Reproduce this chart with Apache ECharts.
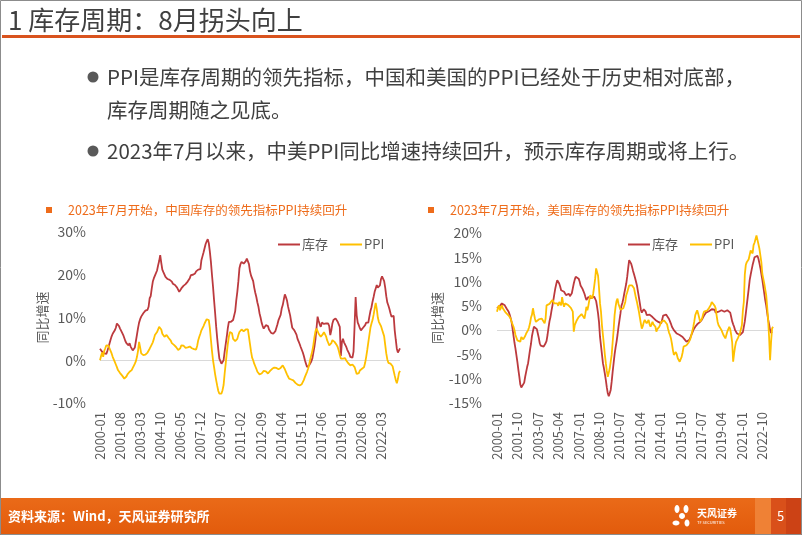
<!DOCTYPE html>
<html><head><meta charset="utf-8">
<script src="https://cdn.jsdelivr.net/npm/echarts/dist/echarts.min.js"></script>
<style>html,body{margin:0;padding:0;background:#fff}#c{width:802px;height:535px}</style>
</head><body><div id="c"></div>
<script>
// ---------- data (monthly, from 2000-01) ----------
const cnInventory = [
2.7,2.3,2.0,1.8,1.6,1.5,1.5,2.2,3.0,3.9,4.8,5.6,
6.2,6.0,7.0,7.6,8.6,8.2,8.0,7.4,7.0,6.4,5.9,5.2,
4.5,4.0,3.8,3.5,4.0,3.2,2.8,2.3,2.2,3.0,4.5,6.0,
7.5,8.8,9.6,10.2,10.6,11.0,11.3,11.6,11.7,11.8,12.5,14.5,
15.0,16.8,18.4,19.2,19.8,20.0,21.0,22.2,23.2,24.6,22.8,21.2,
20.6,20.2,19.5,19.2,19.0,18.9,18.8,18.5,18.4,17.9,17.7,17.6,
17.4,17.0,17.2,16.0,15.6,16.8,17.0,17.4,17.6,17.8,18.2,18.4,
18.8,19.2,19.9,19.8,20.0,20.4,20.3,20.8,21.0,21.2,21.5,21.3,
23.4,24.3,25.2,26.2,27.2,27.8,28.3,27.4,25.4,23.0,20.0,17.2,
14.0,11.0,7.8,5.0,2.5,0.4,0.0,-0.8,-0.5,0.0,2.0,3.8,
5.5,7.5,9.0,9.2,9.0,9.4,9.4,9.8,11.5,14.0,16.0,18.5,
21.5,22.5,23.0,22.8,22.6,23.0,23.2,23.8,24.0,22.5,20.8,19.8,
19.5,18.5,17.0,15.8,14.8,13.5,12.5,11.0,10.0,8.8,8.0,7.4,
7.4,8.2,8.6,8.0,7.2,7.0,6.4,6.0,6.2,6.6,6.8,7.0,
8.4,9.4,9.8,10.6,12.1,12.9,14.2,15.4,14.8,14.0,12.6,11.5,
10.5,9.0,7.6,7.2,7.0,6.8,6.0,5.0,4.4,3.8,3.1,2.7,
1.8,1.0,0.0,-0.8,-1.6,-1.6,-1.2,-0.8,-0.3,0.4,1.8,3.2,
5.0,7.6,10.2,9.2,8.4,7.8,8.8,8.4,8.5,8.8,8.6,8.4,
8.6,8.0,5.9,7.0,8.6,9.4,9.6,9.8,9.4,9.0,8.4,7.8,
1.0,4.2,5.0,4.2,3.9,3.2,2.5,2.2,1.5,0.8,0.4,0.6,
2.0,8.0,14.8,10.5,8.8,8.2,7.5,7.0,7.2,7.6,7.8,8.2,
8.8,8.6,8.8,10.2,11.5,12.4,13.7,14.8,16.0,16.8,17.6,17.0,
16.6,17.5,19.0,19.6,19.9,18.5,17.0,15.0,13.5,12.8,12.0,11.0,
10.2,10.0,10.4,7.0,4.8,2.7,1.8,1.6,2.8
];
const cnPPI = [
0.0,1.0,1.8,0.8,2.2,2.8,3.5,3.6,3.4,2.8,2.2,1.6,
0.8,0.2,-0.4,-1.0,-1.6,-2.3,-2.6,-3.0,-3.4,-3.6,-4.0,-4.3,
-4.3,-3.8,-3.3,-3.0,-2.7,-2.5,-2.3,-1.8,-1.3,-0.8,-0.2,0.8,
2.2,4.3,3.0,1.6,1.3,1.2,1.2,1.3,1.2,1.8,2.2,2.7,
3.2,3.5,4.2,5.0,5.9,6.3,6.6,7.0,7.8,8.2,7.2,6.2,
5.8,5.5,5.6,5.9,5.5,5.2,5.1,4.6,4.0,3.9,3.6,3.5,
3.1,2.7,2.4,2.0,2.8,3.5,3.3,3.4,3.1,2.9,2.7,3.0,
3.2,3.2,3.0,2.8,2.7,2.6,2.6,2.5,3.4,4.7,5.5,6.2,
7.0,7.4,8.0,8.6,9.0,9.6,10.0,9.4,7.5,4.8,2.2,0.0,
-1.6,-3.3,-4.7,-6.0,-7.2,-7.8,-8.2,-7.8,-7.0,-5.8,-3.1,-0.8,
1.6,3.8,5.5,6.6,7.0,6.3,5.0,4.7,4.5,4.3,5.0,5.9,
6.6,7.0,7.2,7.4,6.8,7.0,7.2,7.0,7.2,5.5,3.8,2.0,
0.6,0.0,-0.8,-1.4,-2.0,-2.7,-3.0,-3.3,-3.5,-3.1,-2.7,-2.5,
-2.3,-2.6,-2.9,-3.1,-2.8,-2.5,-2.2,-2.0,-1.8,-1.7,-1.6,-1.8,
-2.0,-2.1,-2.3,-1.8,-1.4,-1.2,-1.5,-2.1,-2.7,-3.3,-3.8,-4.3,
-4.4,-4.5,-4.6,-4.7,-5.0,-5.3,-5.5,-5.7,-5.9,-5.9,-5.9,-5.6,
-5.2,-4.6,-3.9,-3.3,-2.7,-2.0,-1.0,0.2,1.2,2.2,3.6,5.4,
6.8,7.4,7.0,6.2,5.8,5.5,5.6,6.1,6.6,6.4,5.6,4.7,
4.1,3.5,3.4,4.0,4.7,4.6,4.3,4.0,3.6,3.1,2.3,1.3,
0.4,0.0,0.4,0.8,0.5,0.0,-0.4,-0.7,-1.0,-1.2,-1.4,-1.0,
-1.2,-1.6,-2.4,-3.2,-3.6,-3.0,-2.4,-2.1,-2.0,-1.8,-1.6,-0.6,
0.8,2.4,4.2,5.9,7.6,8.6,9.4,10.6,12.1,13.4,12.0,10.0,
9.0,8.6,8.0,7.2,6.4,5.6,3.6,1.6,0.2,-0.6,-1.0,-0.8,
-0.8,-1.4,-2.5,-3.6,-4.6,-5.4,-4.4,-3.0,-2.5
];
const usInventory = [
4.5,4.2,4.6,5.0,5.3,5.5,5.4,5.3,5.1,4.8,4.4,4.1,
3.8,3.2,2.5,1.7,0.3,-1.2,-2.6,-3.8,-5.2,-6.6,-8.2,-9.6,
-11.2,-11.8,-12.0,-11.5,-10.8,-9.6,-8.6,-7.6,-6.8,-5.4,-4.0,-2.8,
-1.2,-0.2,0.7,1.0,0.8,0.2,-0.7,-1.6,-2.7,-3.2,-3.6,-3.5,
-3.4,-3.1,-2.7,-2.2,-1.0,0.5,1.8,2.7,3.9,5.0,6.2,7.4,8.6,
9.5,10.3,10.0,9.6,9.0,8.2,8.0,7.9,7.9,7.5,7.2,7.3,
7.4,7.5,7.0,6.8,7.6,8.6,9.6,10.4,11.0,11.3,11.0,10.6,
10.0,9.2,8.9,8.5,8.2,7.5,6.8,6.2,6.4,6.8,6.7,6.5,
6.6,6.7,6.8,6.9,6.8,6.0,4.8,3.4,1.6,-1.4,-3.2,-5.0,
-6.8,-7.8,-9.0,-10.3,-11.8,-13.0,-13.6,-13.0,-12.3,-10.6,-8.6,-6.8,
-5.0,-3.6,-2.4,-1.0,0.6,2.0,3.4,5.0,5.6,6.5,7.6,8.6,
9.6,11.0,12.8,14.4,14.2,13.7,13.0,12.2,11.5,10.8,10.0,9.2,
8.0,6.8,5.5,4.2,3.6,4.0,4.3,4.5,3.8,3.1,3.3,3.4,3.2,
3.0,2.8,2.7,2.5,2.3,2.1,2.0,1.9,1.7,1.6,1.4,1.4,
2.2,3.0,3.4,3.3,3.2,3.1,2.9,2.3,1.8,1.3,0.7,0.4,
0.0,0.2,-0.3,-0.7,-0.5,-0.8,-1.0,-1.0,-1.2,-1.4,-1.7,-1.9,
-2.1,-2.4,-2.2,-2.0,-2.0,-1.6,-1.0,-0.5,0.0,0.4,0.7,1.0,
1.2,1.4,1.5,1.7,2.0,2.2,2.6,3.0,3.4,3.6,3.7,3.8,
3.9,4.0,4.1,4.3,4.4,4.5,4.2,3.6,3.4,3.6,3.8,3.9,
4.0,4.1,4.0,3.9,3.8,3.9,4.0,4.1,4.3,4.5,3.6,2.7,
1.8,1.2,0.7,0.0,-0.3,-0.7,-0.8,-1.0,-1.0,-1.0,-0.8,-0.4,0.0,
1.8,3.4,5.1,6.8,8.5,10.3,11.4,12.4,13.4,14.2,15.0,15.2,
15.4,15.3,14.7,13.8,12.8,11.6,10.4,9.0,7.6,6.2,5.1,3.6,
2.2,1.2,0.0,-0.6,-0.3
];
const usPPI = [
3.8,4.6,5.1,4.1,4.6,5.1,4.5,4.1,4.3,3.6,3.4,3.2,
3.0,2.6,2.4,1.7,1.4,0.7,0.0,-1.0,-1.4,-2.1,-2.2,-2.1,
-2.4,-1.4,-1.7,-1.9,-1.7,-1.2,-0.7,-0.5,0.0,0.6,1.4,2.6,
3.2,4.5,3.4,2.4,1.7,2.0,2.1,2.2,1.8,2.1,2.4,2.7,
2.6,1.4,2.4,5.1,4.8,5.3,5.4,5.5,5.8,6.2,5.9,5.5,5.6,
5.8,5.5,5.0,5.8,5.4,5.1,6.8,5.6,4.8,5.5,5.9,5.4,
5.2,5.0,5.1,4.6,4.2,3.8,-0.3,1.0,1.4,2.0,2.4,2.7,
3.0,3.1,3.3,3.4,3.0,2.4,3.5,4.8,4.1,5.0,6.2,7.2,
6.8,6.5,7.5,9.0,10.6,12.7,12.4,11.2,8.6,5.5,3.8,1.0,
-1.0,-3.0,-5.1,-6.8,-8.4,-9.6,-8.8,-7.9,-6.5,-5.1,-2.5,0.0,
3.1,4.8,6.0,6.5,5.4,4.8,4.2,3.8,4.2,4.5,4.6,5.8,
7.2,7.8,8.5,9.2,9.4,9.6,9.2,8.8,8.6,7.6,6.6,5.8,
4.8,3.8,2.6,1.4,0.3,0.8,1.6,2.1,1.8,1.4,1.6,2.1,1.2,
0.7,1.2,1.7,1.2,0.9,0.7,-0.3,0.2,0.5,0.7,1.2,1.7,
1.8,2.1,2.0,1.8,1.7,1.2,0.3,-0.5,-1.0,-1.7,-2.8,-4.1,
-5.1,-4.7,-4.5,-5.0,-5.8,-6.0,-6.5,-6.0,-5.5,-4.6,-3.4,-3.2,
-3.3,-3.1,-2.8,-2.6,-2.4,-1.8,-1.0,-0.2,0.7,1.8,3.1,3.6,
4.1,3.4,2.6,1.7,2.0,2.4,3.2,3.8,4.1,4.1,4.0,4.1,
4.5,4.8,5.2,5.8,5.6,5.5,5.0,4.5,3.0,1.7,1.0,1.4,
0.6,0.0,-0.5,-1.0,-1.3,-1.7,-1.0,-0.3,0.0,0.7,0.2,-1.0,
-2.5,-6.5,-4.8,-3.4,-2.4,-2.0,-1.6,-1.2,-0.6,-0.2,1.0,4.0,5.8,
11.5,13.4,14.0,14.4,14.6,14.7,16.4,16.0,15.8,17.5,18.0,18.2,
19.5,19.7,19.9,16.8,15.4,14.0,11.6,10.6,9.6,8.4,7.2,4.8,
2.0,-1.5,-6.2,-2.5,0.3,0.7
];
const seriesNames = ['库存', 'PPI'];
const cnYTicks = { min: -10, max: 30, step: 10 };
const usYTicks = { min: -15, max: 20, step: 5 };
const cnTitle = '2023年7月开始，中国库存的领先指标PPI持续回升';
const usTitle = '2023年7月开始，美国库存的领先指标PPI持续回升';

function makeMonths(n) {
  const a = [];
  for (let i = 0; i < n; i++) {
    const y = 2000 + Math.floor(i / 12), m = i % 12 + 1;
    a.push(y + '-' + (m < 10 ? '0' : '') + m);
  }
  return a;
}
const months = makeMonths(285);

// ---------- styles ----------
const FONT = '"Noto Sans CJK SC","Noto Sans",sans-serif';
const RED = '#BC3A3E', GOLD = '#FFC000', GRAY = '#595959', ORANGE = '#EE6C1B';

function zeroOnly(tk) {
  const cols = [];
  for (let v = tk.min; v <= tk.max; v += tk.step) cols.push(v === 0 ? '#D9D9D9' : 'rgba(0,0,0,0)');
  return cols;
}
function xAx(grid, interval) {
  return {
    gridIndex: grid, type: 'category', data: months, boundaryGap: false,
    axisLine: { show: false }, axisTick: { show: false }, splitLine: { show: false },
    axisLabel: { interval: interval, rotate: 90, fontSize: 13, color: GRAY, margin: 9, fontFamily: FONT }
  };
}
function yAx(grid, tk, gap, lblMargin) {
  return {
    gridIndex: grid, type: 'value', min: tk.min, max: tk.max, interval: tk.step,
    axisLine: { show: false }, axisTick: { show: false },
    axisLabel: { formatter: '{value}%', fontSize: 14, color: GRAY, margin: lblMargin, fontFamily: FONT },
    splitLine: { show: true, lineStyle: { color: zeroOnly(tk), width: 1 } },
    name: '同比增速', nameLocation: 'middle', nameRotate: 90, nameGap: gap,
    nameTextStyle: { fontSize: 13, color: GRAY, fontFamily: FONT }
  };
}
function lineSeries(name, data, xi, color) {
  return {
    name: name, type: 'line', xAxisIndex: xi, yAxisIndex: xi, data: data,
    symbol: 'none', showSymbol: false, smooth: false,
    lineStyle: { color: color, width: 1.8 }, itemStyle: { color: color },
    emphasis: { disabled: true }
  };
}
function legendAt(left) {
  return {
    data: seriesNames, left: left, top: 233, icon: 'rect', itemWidth: 22, itemHeight: 2,
    itemGap: 12, selectedMode: false,
    textStyle: { fontSize: 13, color: GRAY, fontFamily: FONT, padding: [0, 0, 0, -3] }
  };
}

const bulletTxt = { font: '20.5px ' + FONT, fill: '#404040', verticalAlign: 'middle' };
const elements = [
  { type: 'rect', shape: { x: 0.5, y: 0.5, width: 801, height: 534 }, style: { fill: 'none', stroke: '#8C8C8C', lineWidth: 1 }, z: 100 },
  { type: 'text', x: 8, y: 20, style: { text: '1 库存周期：8月拐头向上', font: '26px ' + FONT, fill: '#404040', verticalAlign: 'middle' } },
  { type: 'rect', shape: { x: 2, y: 35, width: 798, height: 3 }, style: { fill: '#D9531E' } },
  { type: 'circle', shape: { cx: 93, cy: 77, r: 5.5 }, style: { fill: '#595959' } },
  { type: 'text', x: 107, y: 77, style: Object.assign({ text: 'PPI是库存周期的领先指标，中国和美国的PPI已经处于历史相对底部，' }, bulletTxt) },
  { type: 'text', x: 107, y: 110, style: Object.assign({ text: '库存周期随之见底。' }, bulletTxt) },
  { type: 'circle', shape: { cx: 93, cy: 151, r: 5.5 }, style: { fill: '#595959' } },
  { type: 'text', x: 107, y: 151, style: Object.assign({ text: '2023年7月以来，中美PPI同比增速持续回升，预示库存周期或将上行。' }, bulletTxt) },
  // chart titles
  { type: 'rect', shape: { x: 46, y: 207, width: 6, height: 6 }, style: { fill: ORANGE } },
  { type: 'text', x: 68, y: 210, style: { text: cnTitle, font: '12.5px ' + FONT, fill: ORANGE, verticalAlign: 'middle' } },
  { type: 'rect', shape: { x: 428, y: 207, width: 6, height: 6 }, style: { fill: ORANGE } },
  { type: 'text', x: 450, y: 210, style: { text: usTitle, font: '12.5px ' + FONT, fill: ORANGE, verticalAlign: 'middle' } },
  // footer
  { type: 'rect', shape: { x: 0, y: 498, width: 802, height: 37 },
    style: { fill: new echarts.graphic.LinearGradient(0, 0, 0, 1, [{ offset: 0, color: '#EA6A18' }, { offset: 1, color: '#E25B0C' }]) } },
  { type: 'rect', shape: { x: 755, y: 498, width: 16, height: 37 }, style: { fill: '#EF8135' } },
  { type: 'rect', shape: { x: 771, y: 498, width: 15, height: 37 }, style: { fill: '#D9501A' } },
  { type: 'rect', shape: { x: 786, y: 498, width: 16, height: 37 }, style: { fill: '#CC4215' } },
  { type: 'text', x: 8, y: 516, style: { text: '资料来源：Wind，天风证券研究所', font: 'bold 13px ' + FONT, fill: '#FFFFFF', verticalAlign: 'middle' } },
  { type: 'text', x: 777, y: 516, style: { text: '5', font: '13px ' + FONT, fill: '#FFFFFF', verticalAlign: 'middle' } },
  // logo
  { type: 'ellipse', shape: { cx: 677, cy: 509, rx: 2.5, ry: 4 }, style: { fill: '#FFFFFF' } },
  { type: 'ellipse', shape: { cx: 686, cy: 509, rx: 2.5, ry: 4 }, style: { fill: '#FFFFFF' } },
  { type: 'ellipse', shape: { cx: 682, cy: 516, rx: 3, ry: 3 }, style: { fill: '#FFFFFF' } },
  { type: 'ellipse', shape: { cx: 676, cy: 523, rx: 3.5, ry: 2.5 }, style: { fill: '#FFFFFF' } },
  { type: 'ellipse', shape: { cx: 687, cy: 523, rx: 2.5, ry: 3.5 }, style: { fill: '#FFFFFF' } },
  { type: 'text', x: 697, y: 513, style: { text: '天风证券', font: 'bold 10px ' + FONT, fill: '#FFFFFF', verticalAlign: 'middle' } },
  { type: 'text', x: 697, y: 522, style: { text: 'TF SECURITIES', font: '4px ' + FONT, fill: '#FFFFFF', verticalAlign: 'middle' } }
];

const chart = echarts.init(document.getElementById('c'), null, { renderer: 'canvas' });
chart.setOption({
  animation: false,
  backgroundColor: '#FFFFFF',
  textStyle: { fontFamily: FONT },
  grid: [
    { left: 100, top: 232, width: 300, height: 171 },
    { left: 497, top: 233, width: 276, height: 170 }
  ],
  xAxis: [xAx(0, 18), xAx(1, 20)],
  yAxis: [yAx(0, cnYTicks, 39, 14), yAx(1, usYTicks, 53, 15)],
  legend: [legendAt(273), legendAt(623)],
  series: [
    lineSeries('库存', cnInventory, 0, RED),
    lineSeries('PPI', cnPPI, 0, GOLD),
    lineSeries('库存', usInventory, 1, RED),
    lineSeries('PPI', usPPI, 1, GOLD)
  ],
  graphic: { elements: elements }
});
</script>
</body></html>
